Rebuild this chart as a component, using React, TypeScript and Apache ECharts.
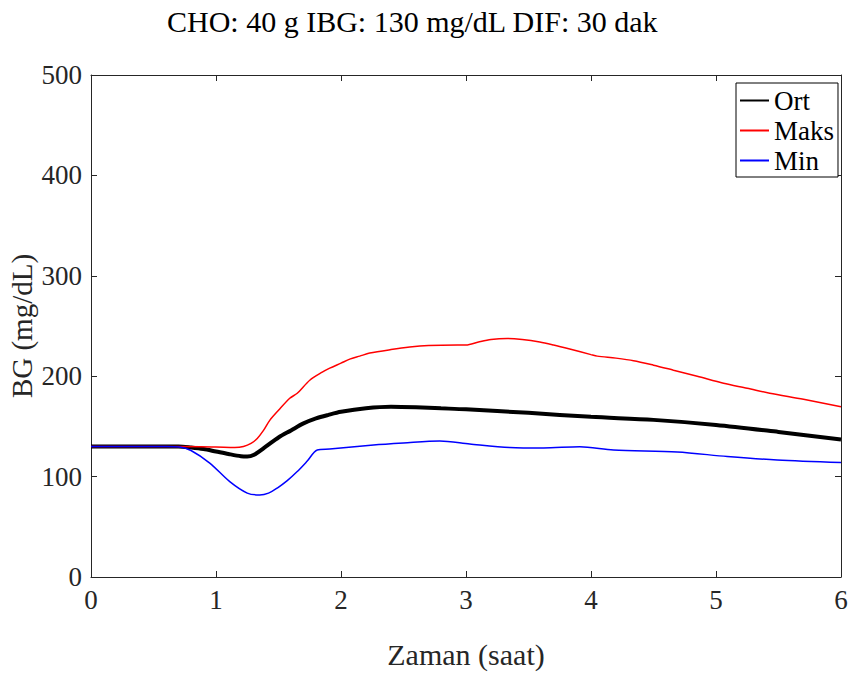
import React, { useEffect, useRef } from "react";
import * as echarts from "echarts";

const titleText = "CHO: 40 g IBG: 130 mg/dL DIF: 30 dak";
const xName = "Zaman (saat)";
const yName = "BG (mg/dL)";
const seriesNames = ["Ort", "Maks", "Min"];

const ortTime = [0, 0.5, 0.7, 0.8, 0.9, 1.0, 1.1, 1.2, 1.25, 1.3, 1.4, 1.5, 1.6, 1.7, 1.8, 1.9, 2.0, 2.2, 2.4, 2.6, 2.8, 3.0, 3.5, 4.0, 4.5, 5.0, 5.5, 6.0];
const ortValues = [130, 130, 130, 129, 127.5, 125, 122.5, 120.3, 120, 121.5, 130, 139, 146, 153, 158, 161.5, 164.5, 168, 169.5, 169, 168, 167, 163.5, 159.5, 156.5, 151.5, 144.5, 137];

const maksTime = [0, 0.7, 1.0, 1.15, 1.22, 1.28, 1.33, 1.38, 1.43, 1.5, 1.59, 1.65, 1.75, 1.85, 1.91, 2.0, 2.07, 2.15, 2.23, 2.4, 2.55, 2.7, 2.93, 3.0, 3.1, 3.2, 3.33, 3.45, 3.59, 3.7, 3.83, 4.0, 4.05, 4.2, 4.34, 4.5, 4.66, 4.85, 5.06, 5.25, 5.43, 5.7, 6.0];
const maksValues = [130, 130, 129.5, 129, 130, 133, 138, 146, 156, 166, 178, 183, 196, 204, 208, 213, 217, 220, 223, 226.5, 229, 230.5, 231, 231, 234, 236.5, 237.5, 236.5, 234, 231, 227, 221.5, 220, 218, 215.5, 211, 206, 200, 193, 188, 183, 177, 169.5];

const minTime = [0, 0.6, 0.71, 0.8, 0.95, 1.11, 1.25, 1.35, 1.42, 1.49, 1.57, 1.65, 1.73, 1.81, 1.91, 2.26, 2.5, 2.79, 3.03, 3.35, 3.62, 3.91, 4.18, 4.69, 5.09, 5.49, 6.0];
const minValues = [130, 130, 129.5, 126, 113.5, 95, 83.6, 81.7, 83.5, 88.6, 96, 105, 115.5, 126.5, 127.5, 131.5, 133.5, 135.5, 132.5, 129, 128.5, 129.8, 126.5, 124.5, 120, 116.5, 114];

const xTicks = { min: 0, max: 6, interval: 1 };
const yTicks = { min: 0, max: 500, interval: 100 };

const pair = (t: number[], v: number[]) => t.map((x, i) => [x, v[i]]);

const FONT = "'Liberation Serif', 'Times New Roman', serif";
const AX = "#262626";

export default function App() {
  const ref = useRef<HTMLDivElement>(null);
  useEffect(() => {
    document.body.style.margin = "0";
    const chart = echarts.init(ref.current!, null, { renderer: "svg" });
    const axisCommon = {
      axisLine: { show: true, onZero: false, lineStyle: { color: AX, width: 1 } },
      axisTick: { show: true, inside: true, length: 6, lineStyle: { color: AX } },
      splitLine: { show: false },
    };
    chart.setOption({
      animation: false,
      backgroundColor: "#fff",
      title: {
        text: titleText,
        left: 162,
        top: 1,
        textStyle: { fontFamily: FONT, fontSize: 30, fontWeight: "normal", color: "#000" },
      },
      legend: {
        data: seriesNames,
        orient: "vertical",
        left: 736,
        top: 83,
        padding: [4, 4, 3, 3],
        itemGap: 3,
        itemWidth: 29,
        itemHeight: 14,
        itemTextGap: 2,
        borderColor: "#000",
        borderWidth: 1,
        backgroundColor: "#fff",
        itemStyle: { color: "rgba(0,0,0,0)", borderWidth: 0, opacity: 0 },
        textStyle: { fontFamily: FONT, fontSize: 27, color: "#000" },
      },
      grid: { left: 91, right: 12, top: 75, bottom: 105, containLabel: false, outerBoundsMode: "none" },
      xAxis: [
        {
          type: "value",
          ...xTicks,
          name: xName,
          nameLocation: "middle",
          nameGap: 62,
          nameMoveOverlap: false,
          nameTextStyle: { fontFamily: FONT, fontSize: 30, color: AX },
          axisLabel: { fontFamily: FONT, fontSize: 27, color: AX, margin: 9 },
          ...axisCommon,
        },
        {
          type: "value",
          position: "top",
          ...xTicks,
          axisLabel: { show: false },
          ...axisCommon,
        },
      ],
      yAxis: [
        {
          type: "value",
          ...yTicks,
          name: yName,
          nameLocation: "middle",
          nameGap: 55,
          nameMoveOverlap: false,
          nameTextStyle: { fontFamily: FONT, fontSize: 29, color: AX },
          axisLabel: { fontFamily: FONT, fontSize: 27, color: AX, margin: 9 },
          ...axisCommon,
        },
        {
          type: "value",
          position: "right",
          ...yTicks,
          axisLabel: { show: false },
          ...axisCommon,
        },
      ],
      series: [
        {
          name: seriesNames[0],
          type: "line",
          data: pair(ortTime, ortValues),
          symbol: "none",
          smooth: 0.3,
          lineStyle: { color: "#000", width: 4 },
          itemStyle: { color: "#000" },
          z: 3,
        },
        {
          name: seriesNames[1],
          type: "line",
          data: pair(maksTime, maksValues),
          symbol: "none",
          smooth: 0.3,
          lineStyle: { color: "#ff0000", width: 1.5 },
          itemStyle: { color: "#ff0000" },
        },
        {
          name: seriesNames[2],
          type: "line",
          data: pair(minTime, minValues),
          symbol: "none",
          smooth: 0.3,
          lineStyle: { color: "#0000ff", width: 1.5 },
          itemStyle: { color: "#0000ff" },
        },
      ],
    });
    return () => chart.dispose();
  }, []);
  return <div ref={ref} style={{ width: 853, height: 682 }} />;
}
